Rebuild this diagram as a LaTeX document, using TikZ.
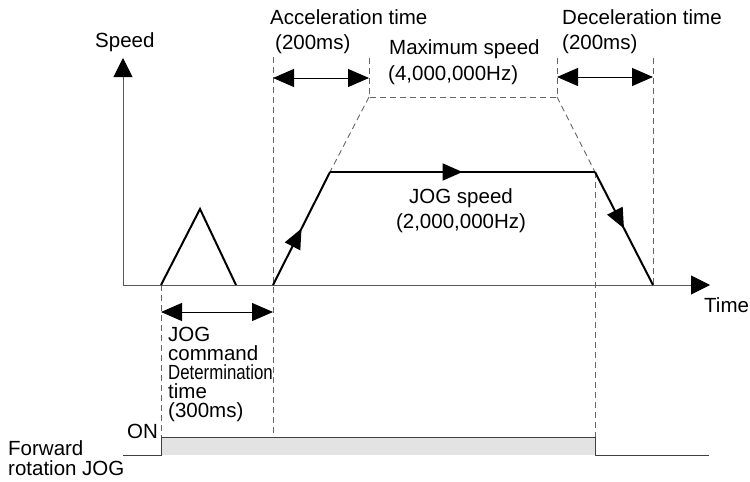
\documentclass[tikz,border=0pt]{standalone}
\usepackage{fontspec}
\setmainfont{Liberation Sans}
\usetikzlibrary{arrows.meta,decorations.markings}
\begin{document}
\begin{tikzpicture}[x=1pt,y=-1pt,
  txt/.style={inner sep=0pt, anchor=base west, font=\fontsize{20.5}{19}\selectfont},
  ctxt/.style={txt, anchor=base},
  dsh/.style={draw=black!60, line width=0.9pt, dash pattern=on 6pt off 4pt},
  axis/.style={draw=black!65, line width=1pt, -{Triangle[length=19pt,width=19pt,color=black]}},
  curve/.style={draw=black, line width=2pt, line join=miter},
  dim/.style={draw=black, line width=1pt, {Triangle[length=21pt,width=18pt]}-{Triangle[length=21pt,width=18pt]}},
  midarrow/.style={postaction={decorate, decoration={markings, mark=at position 0.5 with {\arrow{Triangle[length=20pt,width=17pt]}}}}},
  signal/.style={draw=black!75, line width=1pt}
]
\useasboundingbox (0,0) rectangle (750,482);

% coordinates
\coordinate (O) at (123,285);
\coordinate (Ytop) at (123,58);
\coordinate (Xend) at (710,285);
\coordinate (t0) at (161,285);
\coordinate (t1) at (200,209);
\coordinate (t2) at (236,285);
\coordinate (r0) at (273,285);
\coordinate (r1) at (330,172);
\coordinate (r2) at (595,172);
\coordinate (r3) at (653,285);
\coordinate (m0) at (369,97);
\coordinate (m1) at (557,97);

% signal shading
\fill[black!11] (161,437) rectangle (595,455);

% dashed guides
\draw[dsh] (273,57) -- (273,437);
\draw[dsh] (161,285) -- (161,437);
\draw[dsh] (369,58) -- (m0) -- (m1) -- (557,56);
\draw[dsh] (m0) -- (r1);
\draw[dsh] (m1) -- (r2);
\draw[dsh] (r2) -- (595,437);
\draw[dsh] (653,58) -- (r3);

% axes
\draw[axis] (O) -- (Ytop);
\draw[axis] (O) -- (Xend);

% speed profile
\draw[curve] (t0) -- (t1) -- (t2);
\draw[curve, midarrow] (r0) -- (r1);
\draw[curve, midarrow] (r1) -- (r2);
\draw[curve, midarrow] (r2) -- (r3);

% dimension arrows
\coordinate (a1) at (273,78); \coordinate (a2) at (369,78);
\coordinate (b1) at (557,77); \coordinate (b2) at (653,77);
\coordinate (c1) at (161,312); \coordinate (c2) at (273,312);
\draw[dim] (a1) -- (a2);
\draw[dim] (b1) -- (b2);
\draw[dim] (c1) -- (c2);

% forward rotation JOG signal
\coordinate (s0) at (123,455);
\coordinate (s1) at (161,455);
\coordinate (s2) at (161,437);
\coordinate (s3) at (595,437);
\coordinate (s4) at (595,455);
\coordinate (s5) at (709,455);
\draw[signal] (s0) -- (s1) -- (s2) -- (s3) -- (s4) -- (s5);

% texts
\node[txt] (speed) at (95,47) {Speed};
\node[txt] (time) at (704,312) {Time};
\node[txt] (acc1) at (270,24) {Acceleration time};
\node[txt] (acc2) at (275,49) {(200ms)};
\node[txt] (max1) at (389,54) {Maximum speed};
\node[txt] (max2) at (388,80) {(4,000,000Hz)};
\node[txt] (dec1) at (562,24) {Deceleration time};
\node[txt] (dec2) at (562,49) {(200ms)};
\node[ctxt] (jog1) at (461,203) {JOG speed};
\node[ctxt] (jog2) at (461,228) {(2,000,000Hz)};
\node[txt] (cmd1) at (168,341) {JOG};
\node[txt] (cmd2) at (168,360) {command};
\node[txt] (cmd3) at (168,379) {\scalebox{0.82}[1]{Determination}};
\node[txt] (cmd4) at (168,398) {time};
\node[txt] (cmd5) at (168,417) {(300ms)};
\node[txt, anchor=base east] (on) at (158,438) {ON};
\node[txt] (fw1) at (8,455) {Forward};
\node[txt] (fw2) at (8,475) {rotation JOG};
\end{tikzpicture}
\end{document}
